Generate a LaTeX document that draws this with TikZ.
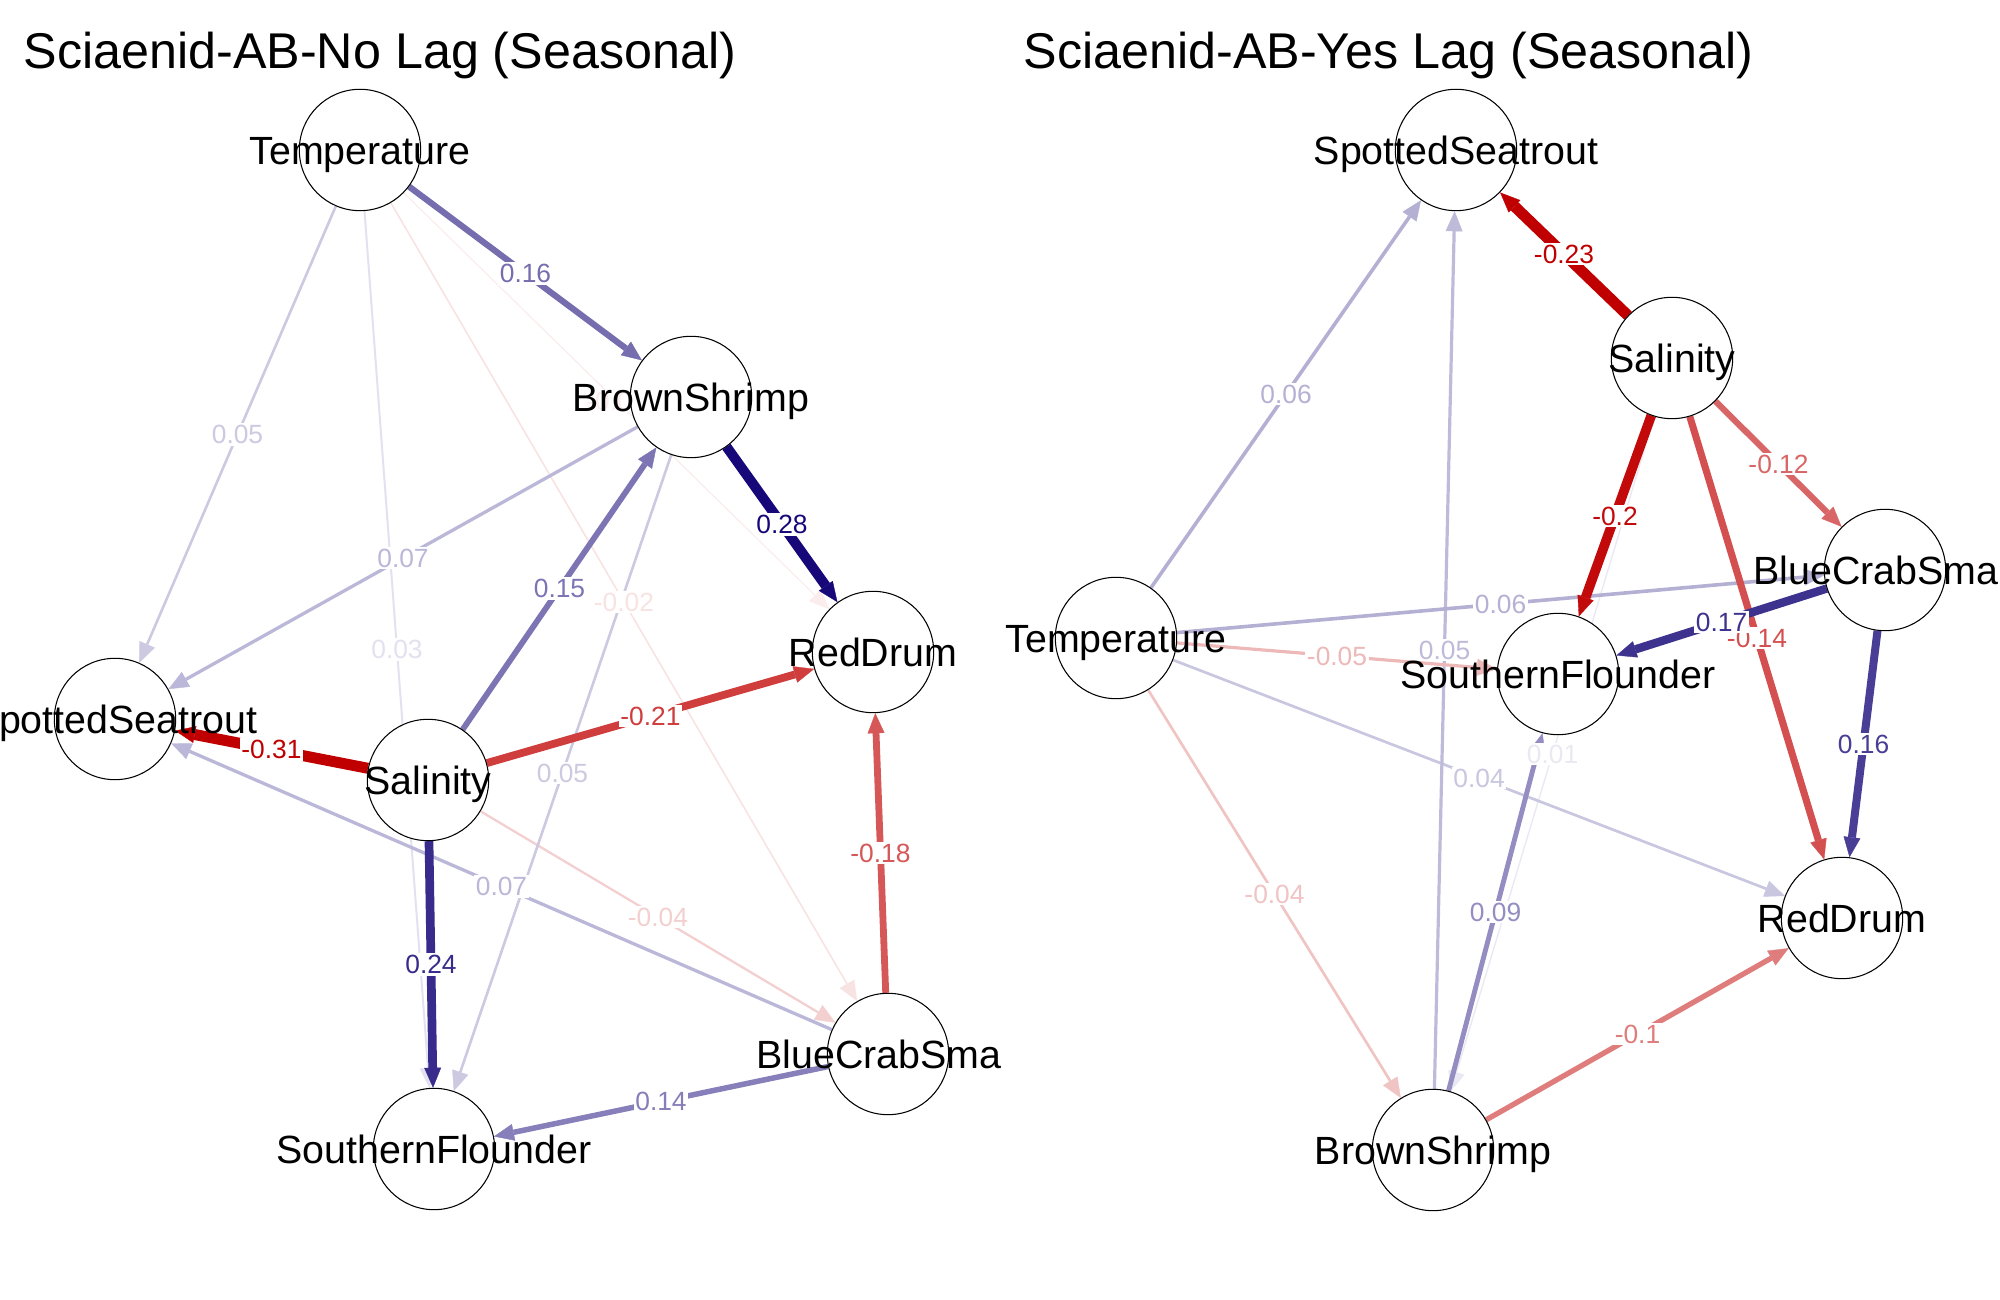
\documentclass[tikz,border=0pt]{standalone}
\usepackage{fontspec}
\setmainfont{Liberation Sans}
\usetikzlibrary{arrows.meta,calc}
\definecolor{posc}{RGB}{22,8,120}
\definecolor{negc}{RGB}{192,0,0}
\newcommand{\elfont}{\fontsize{7.5pt}{8pt}\selectfont}
\newcommand{\ndfont}{\fontsize{11.2pt}{13pt}\selectfont}
\newcommand{\ttlfont}{\fontsize{14.3pt}{16pt}\selectfont}
\tikzset{
  ed/.style n args={3}{draw=#1!#2!white, line width=#3*0.2845pt,
    -{Triangle[length=5.7pt,width=4.8pt,line width=0.1pt]}},
  el/.style n args={2}{text=#1!#2!white, fill=white, inner sep=0.5pt, font=\elfont},
  nodecirc/.style={circle, draw=black, fill=white, line width=0.3pt, minimum size=1.214cm, inner sep=0pt},
  nodetext/.style={anchor=base, inner sep=0pt, font=\ndfont, text=black},
  ttl/.style={anchor=base west, inner sep=0pt, font=\ttlfont, text=black},
}
\begin{document}
\begin{tikzpicture}
\useasboundingbox (0,0) rectangle (20,-13);
\clip (0,0) rectangle (20,-13);
% ---------- left panel nodes (positions) ----------
\node[nodecirc, draw=none, fill=none] (lT) at (3.60,-1.50) {};
\node[nodecirc, draw=none, fill=none] (lBS) at (6.91,-3.97) {};
\node[nodecirc, draw=none, fill=none] (lRD) at (8.73,-6.52) {};
\node[nodecirc, draw=none, fill=none] (lSS) at (1.15,-7.19) {};
\node[nodecirc, draw=none, fill=none] (lSal) at (4.28,-7.80) {};
\node[nodecirc, draw=none, fill=none] (lBC) at (8.88,-10.54) {};
\node[nodecirc, draw=none, fill=none] (lSF) at (4.34,-11.49) {};
% ---------- right panel nodes (positions) ----------
\node[nodecirc, draw=none, fill=none] (rSS) at (14.56,-1.50) {};
\node[nodecirc, draw=none, fill=none] (rSal) at (16.72,-3.58) {};
\node[nodecirc, draw=none, fill=none] (rBC) at (18.85,-5.70) {};
\node[nodecirc, draw=none, fill=none] (rT) at (11.16,-6.38) {};
\node[nodecirc, draw=none, fill=none] (rSF) at (15.58,-6.74) {};
\node[nodecirc, draw=none, fill=none] (rRD) at (18.42,-9.18) {};
\node[nodecirc, draw=none, fill=none] (rBS) at (14.33,-11.50) {};
% ---------- left edges ----------
\draw[ed={negc}{7}{1.3}] (lT) -- (lRD);
\draw[ed={negc}{11}{1.6}] (lT) -- (lBC);
\draw[ed={posc}{12}{2.0}] (lT) -- (lSF);
\draw[ed={negc}{19}{2.3}] (lSal) -- (lBC);
\draw[ed={posc}{22}{2.6}] (lT) -- (lSS);
\draw[ed={posc}{22}{2.6}] (lBS) -- (lSF);
\draw[ed={posc}{29}{3.3}] (lBS) -- (lSS);
\draw[ed={posc}{29}{3.3}] (lBC) -- (lSS);
\draw[ed={posc}{52}{5.5}] (lBC) -- (lSF);
\draw[ed={posc}{56}{5.8}] (lSal) -- (lBS);
\draw[ed={posc}{59}{6.2}] (lT) -- (lBS);
\draw[ed={negc}{66}{6.8}] (lBC) -- (lRD);
\draw[ed={negc}{76}{7.8}] (lSal) -- (lRD);
\draw[ed={posc}{86}{8.7}] (lSal) -- (lSF);
\draw[ed={posc}{100}{10}] (lBS) -- (lRD);
\draw[ed={negc}{100}{11}] (lSal) -- (lSS);
% ---------- right edges ----------
\draw[ed={posc}{9}{1.4}] (rSal) -- (rBS);
\draw[ed={negc}{23}{2.7}] (rT) -- (rBS);
\draw[ed={posc}{23}{2.7}] (rT) -- (rRD);
\draw[ed={posc}{28}{3.2}] (rBS) -- (rSS);
\draw[ed={negc}{28}{3.2}] (rT) -- (rSF);
\draw[ed={posc}{32}{3.6}] (rT) -- (rSS);
\draw[ed={posc}{32}{3.6}] (rT) -- (rBC);
\draw[ed={posc}{46}{4.9}] (rBS) -- (rSF);
\draw[ed={negc}{51}{5.3}] (rBS) -- (rRD);
\draw[ed={negc}{60}{6.2}] (rSal) -- (rBC);
\draw[ed={negc}{69}{7.1}] (rSal) -- (rRD);
\draw[ed={posc}{78}{8.0}] (rBC) -- (rRD);
\draw[ed={posc}{83}{8.4}] (rBC) -- (rSF);
\draw[ed={negc}{96}{9.7}] (rSal) -- (rSF);
\draw[ed={negc}{100}{11}] (rSal) -- (rSS);
% ---------- left labels ----------
\node[el={negc}{7}] (ll1) at ($(lT)!0.5!(lRD)$) {-0.01};
\node[el={negc}{11}] (ll2) at ($(lT)!0.5!(lBC)$) {-0.02};
\node[el={posc}{12}] (ll3) at ($(lT)!0.5!(lSF)$) {0.03};
\node[el={negc}{19}] (ll4) at ($(lSal)!0.5!(lBC)$) {-0.04};
\node[el={posc}{22}] (ll5) at ($(lT)!0.5!(lSS)$) {0.05};
\node[el={posc}{22}] (ll6) at ($(lBS)!0.5!(lSF)$) {0.05};
\node[el={posc}{29}] (ll7) at ($(lBS)!0.5!(lSS)$) {0.07};
\node[el={posc}{29}] (ll8) at ($(lBC)!0.5!(lSS)$) {0.07};
\node[el={posc}{52}] (ll9) at ($(lBC)!0.5!(lSF)$) {0.14};
\node[el={posc}{56}] (ll10) at ($(lSal)!0.5!(lBS)$) {0.15};
\node[el={posc}{59}] (ll11) at ($(lT)!0.5!(lBS)$) {0.16};
\node[el={negc}{66}] (ll12) at ($(lBC)!0.5!(lRD)$) {-0.18};
\node[el={negc}{76}] (ll13) at ($(lSal)!0.5!(lRD)$) {-0.21};
\node[el={posc}{86}] (ll14) at ($(lSal)!0.5!(lSF)$) {0.24};
\node[el={posc}{100}] (ll15) at ($(lBS)!0.5!(lRD)$) {0.28};
\node[el={negc}{100}] (ll16) at ($(lSal)!0.5!(lSS)$) {-0.31};
% ---------- right labels ----------
\node[el={posc}{9}] (rl1) at ($(rSal)!0.5!(rBS)$) {0.01};
\node[el={negc}{23}] (rl2) at ($(rT)!0.5!(rBS)$) {-0.04};
\node[el={posc}{23}] (rl3) at ($(rT)!0.5!(rRD)$) {0.04};
\node[el={posc}{28}] (rl4) at ($(rBS)!0.5!(rSS)$) {0.05};
\node[el={negc}{28}] (rl5) at ($(rT)!0.5!(rSF)$) {-0.05};
\node[el={posc}{32}] (rl6) at ($(rT)!0.5!(rSS)$) {0.06};
\node[el={posc}{32}] (rl7) at ($(rT)!0.5!(rBC)$) {0.06};
\node[el={posc}{46}] (rl8) at ($(rBS)!0.5!(rSF)$) {0.09};
\node[el={negc}{51}] (rl9) at ($(rBS)!0.5!(rRD)$) {-0.1};
\node[el={negc}{60}] (rl10) at ($(rSal)!0.5!(rBC)$) {-0.12};
\node[el={negc}{69}] (rl11) at ($(rSal)!0.5!(rRD)$) {-0.14};
\node[el={posc}{78}] (rl12) at ($(rBC)!0.5!(rRD)$) {0.16};
\node[el={posc}{83}] (rl13) at ($(rBC)!0.5!(rSF)$) {0.17};
\node[el={negc}{96}] (rl14) at ($(rSal)!0.5!(rSF)$) {-0.2};
\node[el={negc}{100}] (rl15) at ($(rSal)!0.5!(rSS)$) {-0.23};
% ---------- node circles and names ----------
\foreach \n/\t/\dx in {lT/Temperature/0, lBS/BrownShrimp/0, lRD/RedDrum/0, lSS/SpottedSeatrout/0, lSal/Salinity/0, lBC/BlueCrabSma/-0.09, lSF/SouthernFlounder/0,
                   rSS/SpottedSeatrout/0, rSal/Salinity/0, rBC/BlueCrabSma/-0.09, rT/Temperature/0, rSF/SouthernFlounder/0, rRD/RedDrum/0, rBS/BrownShrimp/0}{
  \node[nodecirc] (\n c) at (\n.center) {};
  \node[nodetext] (\n t) at ([xshift=\dx cm, yshift=-0.1414cm]\n.center) {\t};
}
% ---------- titles ----------
\node[ttl] (title1) at (0.23,-0.69) {Sciaenid-AB-No Lag (Seasonal)};
\node[ttl] (title2) at (10.23,-0.69) {Sciaenid-AB-Yes Lag (Seasonal)};
\end{tikzpicture}
\end{document}
